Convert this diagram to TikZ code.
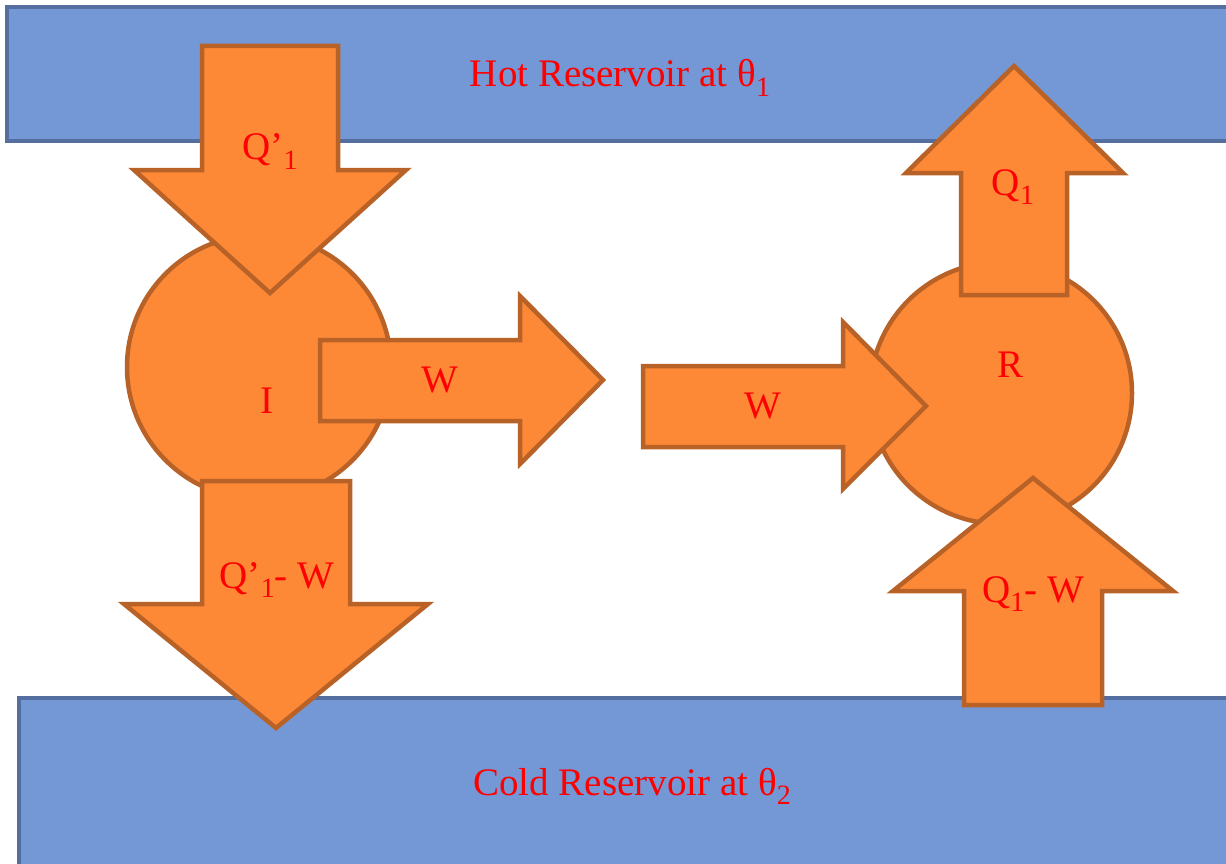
\documentclass[tikz,border=0pt]{standalone}
\usepackage{fontspec}
\setmainfont{Liberation Serif}
\definecolor{resfill}{RGB}{116,152,214}
\definecolor{resline}{RGB}{84,110,160}
\definecolor{orfill}{RGB}{253,137,55}
\definecolor{orline}{RGB}{184,98,40}
\newcommand\lowsub[1]{\raisebox{-0.55ex}{\fontsize{28}{28}\selectfont #1}}
\tikzset{
  res/.style={fill=resfill, draw=resline, line width=4pt},
  blk/.style={fill=orfill, draw=orline, line width=4.5pt, line join=miter},
  lbl/.style={text=red, font=\fontsize{39}{44}\selectfont, inner sep=0pt, anchor=base},
}
\begin{document}
\begin{tikzpicture}[x=1pt,y=-1pt]
\clip (0,0) rectangle (1226,864);
% reservoirs
\draw[res] (7,7) rectangle (1245,141);
\draw[res] (19,698) rectangle (1245,880);
% engines
\draw[blk] (259,367) circle (132);
\draw[blk] (1001,393) circle (131);
% Q'1 down arrow
\draw[blk] (202,46) -- (338,46) -- (338,170) -- (406,170) -- (270,293) -- (134,170) -- (202,170) -- cycle;
% W left arrow
\draw[blk] (320,340) -- (520,340) -- (520,296) -- (603,380) -- (520,464) -- (520,421) -- (320,421) -- cycle;
% Q'1-W down arrow
\draw[blk] (202,481) -- (350,481) -- (350,604) -- (428,604) -- (276,728) -- (124,604) -- (202,604) -- cycle;
% W right arrow
\draw[blk] (643,366) -- (843,366) -- (843,322) -- (926,406) -- (843,489) -- (843,447) -- (643,447) -- cycle;
% Q1 up arrow
\draw[blk] (961,295) -- (1067,295) -- (1067,173) -- (1123,173) -- (1014,66) -- (906,173) -- (961,173) -- cycle;
% Q1-W up arrow
\draw[blk] (964,705) -- (1102,705) -- (1102,591) -- (1173,591) -- (1033,478) -- (893,591) -- (964,591) -- cycle;
% labels
\node[lbl] (hot) at (620,87) {Hot Reservoir at θ\lowsub{1}};
\node[lbl] (cold) at (632,795) {Cold Reservoir at θ\lowsub{2}};
\node[lbl] (qp1) at (270,160) {Q’\lowsub{1}};
\node[lbl] (q1) at (1013,195) {Q\lowsub{1}};
\node[lbl] (w1) at (440,392) {W};
\node[lbl] (w2) at (763,418) {W};
\node[lbl] (eI) at (267,413) {I};
\node[lbl] (eR) at (1010,377) {R};
\node[lbl] (qpw) at (277,588) {Q’\lowsub{1}- W};
\node[lbl] (qw) at (1033,602) {Q\lowsub{1}- W};
\end{tikzpicture}
\end{document}
